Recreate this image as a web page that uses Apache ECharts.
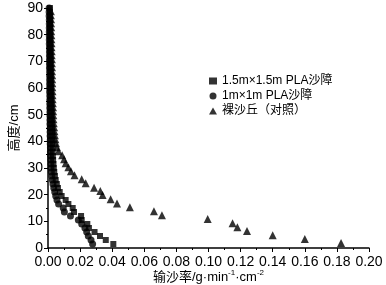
<!DOCTYPE html>
<html>
<head>
<meta charset="utf-8">
<script src="https://cdn.jsdelivr.net/npm/echarts@6/dist/echarts.min.js"></script>
<style>
  html, body { margin: 0; padding: 0; background: #fff; }
  #chart { width: 386px; height: 285px; }
</style>
</head>
<body>
<div id="chart"></div>
<script>
// heights (cm) for the two PLA barrier series
const heights = [1.5, 3, 4.5, 6, 7.5, 9, 10.5, 12, 13.5, 15, 16.5, 18, 19.5, 21, 22.5, 24, 25.5, 27, 28.5, 30,
  31.5, 33, 34.5, 36, 37.5, 39, 40.5, 42, 43.5, 45, 46.5, 48, 49.5, 51, 52.5, 54, 55.5, 57, 58.5, 60,
  61.5, 63, 64.5, 66, 67.5, 69, 70.5, 72, 73.5, 75, 76.5, 78, 79.5, 81, 82.5, 84, 85.5, 87, 88.5, 90]

// 1.5m×1.5m PLA
const rateBig = [0.0407, 0.036, 0.0324, 0.029, 0.0255, 0.0245, 0.021, 0.0206, 0.0162, 0.0154,
  0.0127, 0.011, 0.0085, 0.0073, 0.0062, 0.0055, 0.0048, 0.0043, 0.0039, 0.0036,
  0.0034, 0.0032, 0.003, 0.0029, 0.0028, 0.0027, 0.0026, 0.0025, 0.0025, 0.0024,
  0.0023, 0.0023, 0.0022, 0.0022, 0.0021, 0.0021, 0.002, 0.002, 0.0019, 0.0019,
  0.0018, 0.0018, 0.0018, 0.0017, 0.0017, 0.0016, 0.0016, 0.0016, 0.0015, 0.0015,
  0.0015, 0.0014, 0.0014, 0.0014, 0.0013, 0.0013, 0.0013, 0.0012, 0.0012, 0.0012]

// 1m×1m PLA
const rateSmall = [0.0278, 0.0268, 0.0251, 0.0241, 0.023, 0.021, 0.0189, 0.014, 0.0102, 0.0095,
  0.0066, 0.0056, 0.0048, 0.0042, 0.0036, 0.0031, 0.0027, 0.0024, 0.0021, 0.0019,
  0.0018, 0.0017, 0.0016, 0.0015, 0.0015, 0.0014, 0.0014, 0.0013, 0.0013, 0.0013,
  0.0012, 0.0012, 0.0012, 0.0012, 0.0011, 0.0011, 0.0011, 0.0011, 0.001, 0.001,
  0.001, 0.001, 0.001, 0.001, 0.0009, 0.0009, 0.0009, 0.0009, 0.0009, 0.0009,
  0.0008, 0.0008, 0.0008, 0.0008, 0.0008, 0.0008, 0.0008, 0.0007, 0.0007, 0.0007]

// bare dune (control)
const heightsBare = [1.9, 3.4, 4.8, 6.4, 7.8, 9.3, 10.9, 12.3, 13.8, 15.3, 16.7, 18.3, 19.9, 21.4, 22.6, 24.3,
  25.8, 27.3, 28.8, 30.3, 31.8, 33.3, 34.8, 36.3, 37.8, 39.3, 40.8, 42.3, 43.8, 45.3, 46.8, 48.3,
  49.8, 51.3, 52.8, 54.3, 55.8, 57.3, 58.8, 60.3, 61.8, 63.3, 64.8, 66.3, 67.8, 69.3, 70.8, 72.3,
  73.8, 75.3, 76.8, 78.3, 79.8, 81.3, 82.8, 84.3, 85.8, 87.3, 88.8]
const rateBare = [0.1826, 0.16, 0.14, 0.124, 0.118, 0.115, 0.0995, 0.071, 0.066, 0.051,
  0.043, 0.039, 0.034, 0.0326, 0.0287, 0.0235, 0.021, 0.0165, 0.0143, 0.0127,
  0.011, 0.01, 0.0088, 0.0065, 0.0056, 0.005,
  0.0046, 0.0043, 0.004, 0.0038, 0.0036, 0.0034, 0.0033, 0.0032, 0.0031, 0.003,
  0.0029, 0.0028, 0.0028, 0.0027, 0.0027, 0.0026, 0.0026, 0.0025, 0.0025, 0.0024,
  0.0024, 0.0023, 0.0023, 0.0022, 0.0022, 0.0021, 0.0021, 0.002, 0.002, 0.0019,
  0.0019, 0.0018, 0.0018]

const names = ['1.5m×1.5m PLA沙障', '1m×1m PLA沙障', '裸沙丘（对照）']

const FONT = 'Liberation Sans, Arial, Noto Sans CJK SC, sans-serif'
const pairs = (xs, ys) => xs.map((x, i) => [x, ys[i]])

const chart = echarts.init(document.getElementById('chart'))
chart.setOption({
  animation: false,
  textStyle: { fontFamily: FONT, color: '#000' },
  grid: { left: 48, right: 17, top: 8, bottom: 37, outerBoundsMode: 'none' },
  legend: {
    orient: 'vertical',
    left: 204,
    top: 70,
    itemGap: 3,
    itemWidth: 8,
    itemHeight: 7,
    textStyle: { fontSize: 12, color: '#000', fontFamily: FONT },
    data: names,
  },
  xAxis: {
    type: 'value',
    min: 0, max: 0.2, interval: 0.02,
    name: '输沙率/g·min{sup|-1}·cm{sup|-2}',
    nameLocation: 'middle',
    nameGap: 21,
    nameMoveOverlap: false,
    nameTextStyle: {
      fontSize: 13, color: '#000', fontFamily: FONT,
      rich: { sup: { fontSize: 8, verticalAlign: 'top', padding: [0, 0, 8, 0], color: '#000' } },
    },
    axisLine: { lineStyle: { color: '#000', width: 1.5 } },
    axisTick: { inside: false, length: 4, lineStyle: { color: '#000' } },
    minorTick: { show: true, splitNumber: 2, length: 2, lineStyle: { color: '#000' } },
    splitLine: { show: false },
    axisLabel: { fontSize: 14, color: '#000', margin: 7, formatter: v => v.toFixed(2) },
  },
  yAxis: {
    type: 'value',
    min: 0, max: 90, interval: 10,
    name: '高度/cm',
    nameLocation: 'middle',
    nameGap: 27,
    nameMoveOverlap: false,
    nameTextStyle: { fontSize: 13, color: '#000', fontFamily: FONT },
    axisLine: { show: true, lineStyle: { color: '#000', width: 1.5 } },
    axisTick: { show: true, inside: false, length: 4, lineStyle: { color: '#000' } },
    minorTick: { show: true, splitNumber: 2, length: 2, lineStyle: { color: '#000' } },
    splitLine: { show: false },
    axisLabel: { fontSize: 14, color: '#000', margin: 5 },
  },
  series: [
    { name: names[0], type: 'scatter', symbol: 'rect', symbolSize: 6,
      itemStyle: { color: '#000' }, data: pairs(rateBig, heights) },
    { name: names[1], type: 'scatter', symbol: 'circle', symbolSize: 7,
      itemStyle: { color: '#000' }, data: pairs(rateSmall, heights) },
    { name: names[2], type: 'scatter', symbol: 'triangle', symbolSize: 8,
      itemStyle: { color: '#000' }, data: pairs(rateBare, heightsBare) },
  ],
})
</script>
</body>
</html>
